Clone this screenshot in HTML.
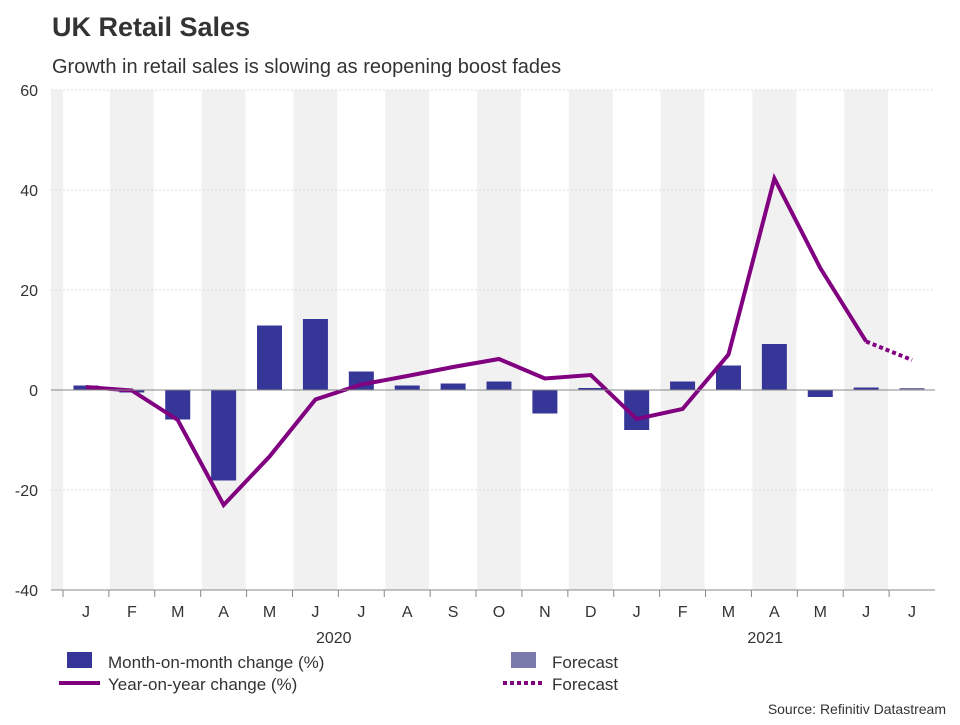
<!DOCTYPE html>
<html><head><meta charset="utf-8"><style>
body{margin:0;background:#fff;font-family:"Liberation Sans",sans-serif}
svg text{font-family:"Liberation Sans",sans-serif}
</style></head><body>
<svg id="c" width="960" height="720" xmlns="http://www.w3.org/2000/svg">
<text x="52" y="36" font-size="27" font-weight="bold" fill="#333">UK Retail Sales</text>
<text x="52" y="73" font-size="20" fill="#333">Growth in retail sales is slowing as reopening boost fades</text>
<g id="bands"></g><g id="grid"></g><g id="bars"></g><g id="lines"></g><g id="axes"></g>
<g font-size="17" fill="#333">
<rect x="67" y="652" width="25" height="16" fill="#363699"/>
<text x="108" y="668">Month-on-month change (%)</text>
<rect x="511" y="652" width="25" height="16" fill="#7b7bab"/>
<text x="552" y="668">Forecast</text>
<line x1="59" y1="683" x2="100" y2="683" stroke="#800080" stroke-width="4"/>
<text x="108" y="690">Year-on-year change (%)</text>
<line x1="503" y1="683" x2="545" y2="683" stroke="#800080" stroke-width="4" stroke-dasharray="4,3"/>
<text x="552" y="690">Forecast</text>
</g>
<text x="946" y="714" font-size="14" fill="#333" text-anchor="end">Source: Refinitiv Datastream</text>
</svg>
<script>
const months=["J","F","M","A","M","J","J","A","S","O","N","D","J","F","M","A","M","J","J"];
const momValues=[0.9,-0.5,-5.9,-18.1,12.9,14.2,3.7,0.9,1.3,1.7,-4.7,0.4,-8.0,1.7,4.9,9.2,-1.4,0.5,0.4];
const yoyValues=[0.6,-0.1,-6.0,-23.0,-13.3,-1.9,1.1,2.8,4.6,6.2,2.3,3.0,-5.8,-3.8,7.1,42.3,24.4,9.7,6.0];
const forecastFrom=18;
const yTicks=[60,40,20,0,-20,-40];
const years=["2020","2021"];
const yearIdx=[5.4,14.8];

const NS="http://www.w3.org/2000/svg";
const L=63,R=935,T=90,B=590,ymin=-40,ymax=60;
const bw=(R-L)/months.length;
const x=i=>L+bw*(i+0.5);
const y=v=>B-(v-ymin)/(ymax-ymin)*(B-T);
function mk(tag,attrs,parent){const e=document.createElementNS(NS,tag);for(const k in attrs)e.setAttribute(k,attrs[k]);document.getElementById(parent).appendChild(e);return e;}

let e=mk('rect',{x:51,y:T,width:L-51,height:B-T,fill:'#f1f1f1'},'bands');


months.forEach((m,i)=>{if(i%2===1){const r=mk('rect',{x:L+bw*i+1,y:T,width:bw-2,height:B-T,fill:'#f1f1f1'},'bands');

}});

yTicks.forEach(t=>{
 if(t!==ymin&&t!==0){const g=mk('line',{x1:51,x2:R,y1:y(t),y2:y(t),stroke:'#ddd','stroke-dasharray':'2,2','stroke-width':1},'grid');
 
 }
 const tx=mk('text',{x:38,y:y(t)+6,'text-anchor':'end','font-size':16,fill:'#333'},'axes');tx.textContent=t;
 
 
});

momValues.forEach((v,i)=>{
 const r=mk('rect',{x:x(i)-12.5,y:Math.min(y(v),y(0)),width:25,height:Math.abs(y(v)-y(0)),fill:i>=forecastFrom?'#7b7bab':'#363699'},'bars');
 
 
});

let z=mk('line',{x1:51,x2:R,y1:y(0),y2:y(0),stroke:'#888','stroke-width':1},'axes');



const pts=yoyValues.slice(0,forecastFrom).map((v,i)=>x(i)+','+y(v)).join(' ');
let pl=mk('polyline',{points:pts,fill:'none',stroke:'#800080','stroke-width':4,'stroke-linejoin':'miter'},'lines');


const fp=yoyValues.slice(forecastFrom-1).map((v,j)=>x(forecastFrom-1+j)+','+y(v)).join(' ');
let fl=mk('polyline',{points:fp,fill:'none',stroke:'#800080','stroke-width':4,'stroke-dasharray':'4,3'},'lines');



let ax=mk('line',{x1:51,x2:R,y1:B,y2:B,stroke:'#888','stroke-width':1},'axes');


for(let i=0;i<months.length;i++){const tk=mk('line',{x1:L+bw*i,x2:L+bw*i,y1:B,y2:B+7,stroke:'#888'},'axes');

}
months.forEach((m,i)=>{const t=mk('text',{x:x(i),y:617,'text-anchor':'middle','font-size':16,fill:'#333'},'axes');t.textContent=m;

});
years.forEach((yr,k)=>{const t=mk('text',{x:x(yearIdx[k]),y:643,'text-anchor':'middle','font-size':16,fill:'#333'},'axes');t.textContent=yr;

});
</script>
</body></html>
